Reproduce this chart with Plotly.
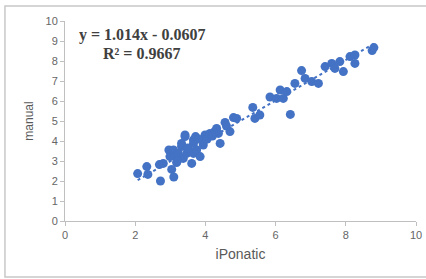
import plotly.graph_objects as go

ipon = [2.07, 2.33, 2.36, 2.69, 2.72, 2.80, 2.96, 2.99, 3.04, 3.10, 3.09, 3.13, 3.18, 3.23,
        3.32, 3.32, 3.37, 3.42, 3.42, 3.47, 3.55, 3.61, 3.66, 3.66, 3.66, 3.72, 3.75, 3.85,
        3.94, 3.94, 3.99, 4.13, 4.26, 4.32, 4.37, 4.42, 4.56, 4.70, 4.80, 4.89, 5.35, 5.41,
        5.55, 5.84, 6.03, 6.13, 6.22, 6.32, 6.42, 6.55, 6.74, 6.84, 7.03, 7.22, 7.41, 7.60,
        7.69, 7.83, 7.93, 8.12, 8.26, 8.26, 8.75, 8.80, 3.50, 3.80, 4.05, 4.20, 3.20, 4.60]
manual = [2.37, 2.72, 2.33, 2.82, 2.00, 2.88, 3.55, 3.22, 2.58, 2.20, 3.55, 3.22, 2.92, 3.38,
          3.72, 3.88, 3.13, 4.30, 4.22, 3.38, 3.50, 2.88, 3.38, 4.05, 3.88, 4.22, 3.55, 3.22,
          3.80, 3.97, 4.30, 4.38, 4.47, 4.63, 4.38, 3.88, 4.93, 4.47, 5.17, 5.13, 5.68, 5.13,
          5.30, 6.20, 6.13, 6.55, 6.13, 6.47, 5.33, 6.88, 7.52, 7.13, 6.97, 6.88, 7.72, 7.88,
          7.63, 7.97, 7.47, 8.22, 8.30, 7.88, 8.52, 8.67, 3.65, 4.10, 4.10, 4.25, 3.00, 4.75]

slope = 1.014
intercept = -0.0607
r_squared = 0.9667
x_ticks = [0, 2, 4, 6, 8, 10]
y_ticks = list(range(0, 11))

blue = "#4472C4"
fig = go.Figure()
xmin, xmax = min(ipon), max(ipon)
fig.add_trace(go.Scatter(x=[xmin, xmax], y=[slope * xmin + intercept, slope * xmax + intercept],
                         mode="lines", line=dict(color=blue, width=2, dash="dot"),
                         hoverinfo="skip", showlegend=False, cliponaxis=False))
fig.add_trace(go.Scatter(x=ipon, y=manual, mode="markers",
                         marker=dict(color=blue, size=9, line=dict(width=0)),
                         showlegend=False, cliponaxis=False))

axis_common = dict(showgrid=False, zeroline=False, showline=True, linecolor="#bfbfbf",
                   linewidth=1, ticks="outside", ticklen=4, tickcolor="#bfbfbf", automargin=False,
                   tickfont=dict(family="Liberation Sans, Arial", size=11, color="#666666"))
fig.update_xaxes(range=[0, 10], tickvals=x_ticks, **axis_common,
                 title=dict(text="iPonatic", font=dict(family="Liberation Sans, Arial", size=14, color="#595959"),
                            standoff=8))
fig.update_yaxes(range=[0, 10], tickvals=y_ticks, **axis_common,
                 title=dict(text="manual", font=dict(family="Liberation Sans, Arial", size=12, color="#595959"),
                            standoff=9))

ann_font = dict(family="Liberation Serif, Times New Roman", size=16, color="#404040")
fig.add_annotation(xref="paper", yref="paper", x=0.219, y=0.93, xanchor="center", yanchor="middle",
                   text=f"<b>y = {slope}x - {abs(intercept)}</b>", showarrow=False, font=ann_font)
fig.add_annotation(xref="paper", yref="paper", x=0.219, y=0.84, xanchor="center", yanchor="middle",
                   text=f"<b>R² = {r_squared}</b>", showarrow=False, font=ann_font)

fig.add_shape(type="rect", xref="paper", yref="paper", x0=-0.171, x1=1.1, y0=-0.28, y1=1.075,
              line=dict(color="#c8c8c8", width=1.5), layer="below")

fig.update_layout(width=426, height=279, margin=dict(l=65, r=10, t=21, b=58),
                  plot_bgcolor="white", paper_bgcolor="white", hovermode=False)
fig.write_html("out.html", config={"displayModeBar": False, "staticPlot": True},
               post_script="document.body.style.margin='0';document.body.style.overflow='hidden';")
